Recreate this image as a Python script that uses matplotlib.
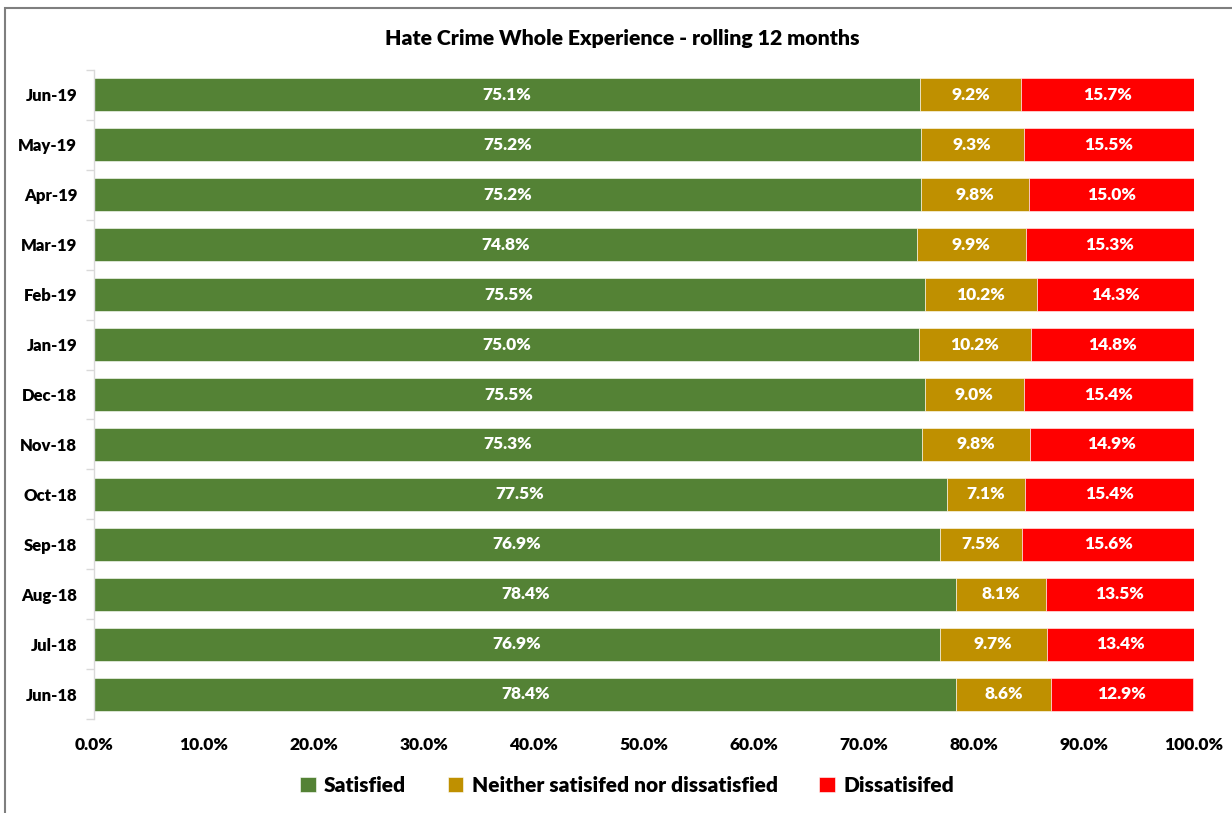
import matplotlib

matplotlib.use("Agg")
import matplotlib.pyplot as plt
from matplotlib.patches import Rectangle
from matplotlib.ticker import FixedLocator, FuncFormatter

plt.rcParams["font.family"] = ["Lato", "DejaVu Sans"]
plt.rcParams["font.weight"] = "heavy"

# rolling 12-month periods, oldest first (drawn bottom to top)
months = ["Jun-18", "Jul-18", "Aug-18", "Sep-18", "Oct-18", "Nov-18", "Dec-18",
          "Jan-19", "Feb-19", "Mar-19", "Apr-19", "May-19", "Jun-19"]
satisfied = [78.4, 76.9, 78.4, 76.9, 77.5, 75.3, 75.5, 75.0, 75.5, 74.8, 75.2, 75.2, 75.1]
neither = [8.6, 9.7, 8.1, 7.5, 7.1, 9.8, 9.0, 10.2, 10.2, 9.9, 9.8, 9.3, 9.2]
dissatisfied = [12.9, 13.4, 13.5, 15.6, 15.4, 14.9, 15.4, 14.8, 14.3, 15.3, 15.0, 15.5, 15.7]

series = [
    ("Satisfied", satisfied, "#548235"),
    ("Neither satisifed nor dissatisfied", neither, "#BF9000"),
    ("Dissatisifed", dissatisfied, "#FF0000"),
]

fig = plt.figure(figsize=(12.32, 8.13), dpi=100)
ax = fig.add_axes([94 / 1232, 1 - 719 / 813, 1100 / 1232, 649 / 813])

# chart-area frame
fig.patches.append(Rectangle((5 / 1232, -0.05), 1.2, 1.05 - 8 / 813, transform=fig.transFigure,
                             fill=False, edgecolor="#7f7f7f", linewidth=1.5))

y = list(range(len(months)))
left = [0.0] * len(months)
for name, values, color in series:
    bars = ax.barh(y, values, left=left, height=0.66, color=color, label=name,
                   edgecolor="#ffffff", linewidth=0.4)
    for bar, v in zip(bars, values):
        cx = bar.get_x() + bar.get_width() / 2
        ax.text(cx, bar.get_y() + bar.get_height() / 2, f"{v:.1f}%", ha="center", va="center",
                color="white", fontsize=12.5, fontweight="heavy")
    left = [l + v for l, v in zip(left, values)]

ax.set_xlim(0, 100)
ax.set_ylim(-0.5, len(months) - 0.5)
ax.set_yticks(y)
ax.set_yticklabels(months, fontsize=12, fontweight="heavy")
ax.yaxis.set_minor_locator(FixedLocator([i - 0.5 for i in range(len(months) + 1)]))
ax.tick_params(axis="y", which="major", length=0, pad=12)
ax.tick_params(axis="y", which="minor", length=6, color="#d9d9d9", width=1)
ax.set_xticks(range(0, 101, 10))
ax.xaxis.set_major_formatter(FuncFormatter(lambda v, p: f"{v:.1f}%"))
ax.tick_params(axis="x", length=0, labelsize=12.5, pad=13)
for lab in ax.get_xticklabels():
    lab.set_fontweight("heavy")

for side in ["top", "right", "bottom"]:
    ax.spines[side].set_visible(False)
ax.spines["left"].set_color("#d9d9d9")
ax.spines["left"].set_linewidth(1)

fig.text(622 / 1232, 1 - 39 / 813, "Hate Crime Whole Experience - rolling 12 months",
         ha="center", va="center", fontsize=15.3, fontweight="heavy")

fig.legend(loc="center", bbox_to_anchor=(627 / 1232, 1 - 785 / 813), ncol=3, frameon=False,
           prop={"size": 15, "weight": "heavy"}, handlelength=0.75, handleheight=0.75,
           handletextpad=0.4, columnspacing=2.0)

fig.savefig("out.png", dpi=100)
